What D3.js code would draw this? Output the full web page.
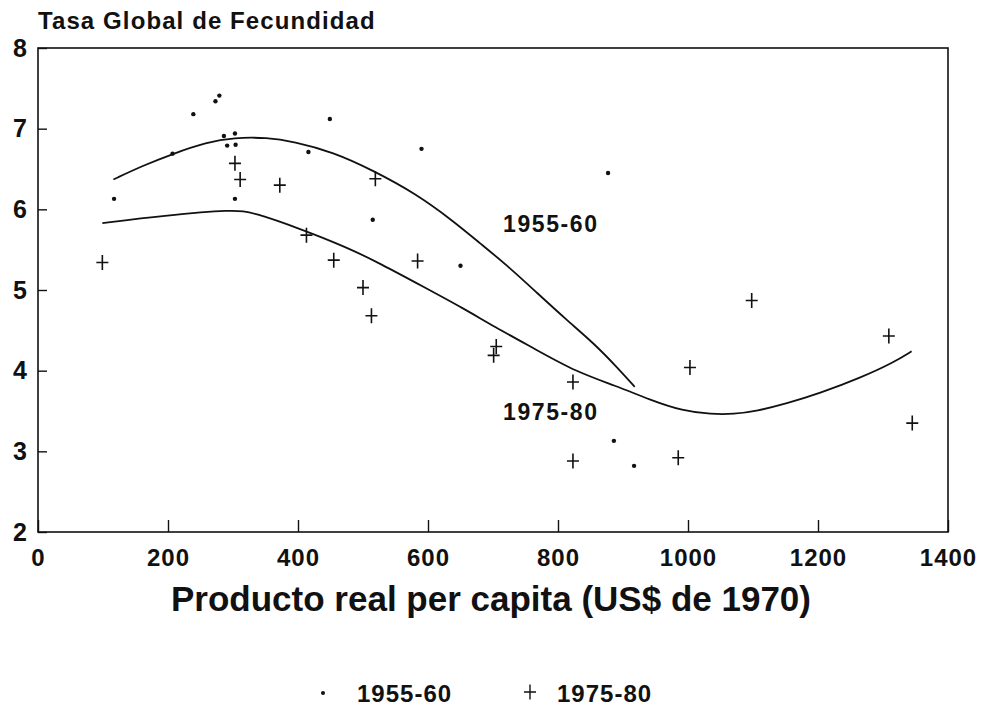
<!DOCTYPE html>
<html>
<head>
<meta charset="utf-8">
<script src="https://cdn.jsdelivr.net/npm/d3@7/dist/d3.min.js"></script>
<style>
    body { margin: 0; background: #ffffff; }
    svg { display: block; font-family: "Liberation Sans", Arial, sans-serif; }
</style>
</head>
<body>
<script>
// Puntos 1955-60 (producto per capita, tasa global de fecundidad)
const dots5560X = [239, 273, 279, 449, 286, 303, 291, 304, 207, 416, 117, 303, 515, 590, 877, 650, 886, 917];
const dots5560Y = [7.18, 7.34, 7.41, 7.12, 6.91, 6.94, 6.79, 6.80, 6.69, 6.71, 6.13, 6.13, 5.87, 6.75, 6.45, 5.30, 3.13, 2.82];

// Puntos 1975-80
const cross7580X = [99, 303, 311, 372, 519, 413, 455, 500, 513, 584, 701, 705, 823, 823, 985, 1003, 1098, 1309, 1345];
const cross7580Y = [5.34, 6.57, 6.37, 6.30, 6.38, 5.68, 5.37, 5.03, 4.68, 5.36, 4.19, 4.30, 3.86, 2.88, 2.92, 4.04, 4.87, 4.43, 3.35];

// Curvas ajustadas
const curve5560X = [116, 161, 208, 259, 302, 352, 393, 454, 516, 582, 638, 680, 721, 767, 813, 855, 890, 918];
const curve5560Y = [6.37, 6.54, 6.69, 6.83, 6.89, 6.89, 6.84, 6.71, 6.48, 6.19, 5.86, 5.58, 5.31, 4.97, 4.63, 4.34, 4.05, 3.80];
const curve7580X = [99, 193, 301, 332, 403, 475, 526, 593, 655, 701, 762, 829, 890, 941, 992, 1036, 1070, 1106, 1151, 1203, 1265, 1316, 1344];
const curve7580Y = [5.83, 5.92, 6.00, 5.96, 5.76, 5.53, 5.33, 5.04, 4.77, 4.55, 4.28, 3.98, 3.81, 3.64, 3.50, 3.46, 3.46, 3.50, 3.59, 3.72, 3.91, 4.10, 4.24];

// Ejes
const xTicks = [0, 200, 400, 600, 800, 1000, 1200, 1400];
const yTicks = [2, 3, 4, 5, 6, 7, 8];
const seriesNames = ['1955-60', '1975-80'];
const yTitle = 'Tasa Global de Fecundidad';
const xTitle = 'Producto real per capita (US$ de 1970)';

const svgWidth = 982, svgHeight = 709;
const plot = {left: 38, right: 948, top: 48, bottom: 532};

let svg = d3.select('body')
    .append('svg')
    .attr('width', svgWidth)
    .attr('height', svgHeight);

const x = d3.scaleLinear().domain([0, 1400]).range([plot.left, plot.right]);
const y = d3.scaleLinear().domain([2, 8]).range([plot.bottom, plot.top]);

const ink = '#111111';

// marco
svg.append('rect')
    .attr('x', plot.left)
    .attr('y', plot.top)
    .attr('width', plot.right - plot.left)
    .attr('height', plot.bottom - plot.top)
    .attr('fill', 'none')
    .attr('stroke', ink)
    .attr('stroke-width', 1.6);

// eje x
let xAxis = svg.append('g')
    .attr('transform', `translate(0,${plot.bottom})`)
    .call(d3.axisBottom(x).tickValues(xTicks).tickFormat(d3.format('d')).tickSizeInner(-12).tickSizeOuter(0).tickPadding(17));
xAxis.select('.domain').remove();
xAxis.selectAll('line').attr('stroke', ink).attr('stroke-width', 1.4);
xAxis.selectAll('text')
    .attr('fill', ink)
    .style('font-size', '24px')
    .style('font-weight', 'bold')
    .style('letter-spacing', '1px');

// eje y
let yAxis = svg.append('g')
    .attr('transform', `translate(${plot.left},0)`)
    .call(d3.axisLeft(y).tickValues(yTicks).tickFormat(d3.format('d')).tickSizeInner(-9).tickSizeOuter(0).tickPadding(11));
yAxis.select('.domain').remove();
yAxis.selectAll('line').attr('stroke', ink).attr('stroke-width', 1.4);
yAxis.selectAll('text')
    .attr('fill', ink)
    .style('font-size', '25px')
    .style('font-weight', 'bold');

// titulos
svg.append('text')
    .attr('x', 38)
    .attr('y', 29)
    .attr('fill', ink)
    .style('font-size', '24px')
    .style('font-weight', 'bold')
    .style('letter-spacing', '1.1px')
    .text(yTitle);

svg.append('text')
    .attr('x', (172 + 810) / 2)
    .attr('y', 611)
    .attr('text-anchor', 'middle')
    .attr('fill', ink)
    .style('font-size', '35px')
    .style('font-weight', 'bold')
    .text(xTitle);

// curvas
const line = d3.line()
    .x(d => x(d[0]))
    .y(d => y(d[1]))
    .curve(d3.curveBasis);

svg.append('path')
    .datum(d3.zip(curve5560X, curve5560Y))
    .attr('d', line)
    .attr('fill', 'none')
    .attr('stroke', ink)
    .attr('stroke-width', 1.8);

svg.append('path')
    .datum(d3.zip(curve7580X, curve7580Y))
    .attr('d', line)
    .attr('fill', 'none')
    .attr('stroke', ink)
    .attr('stroke-width', 1.8);

// puntos 1955-60
svg.append('g')
    .selectAll('circle')
    .data(d3.zip(dots5560X, dots5560Y))
    .join('circle')
    .attr('cx', d => x(d[0]))
    .attr('cy', d => y(d[1]))
    .attr('r', 2.2)
    .attr('fill', ink);

// cruces 1975-80
const crossPath = (cx, cy) => `M${cx - 6},${cy}H${cx + 6}M${cx},${cy - 7.5}V${cy + 7.5}`;
svg.append('g')
    .selectAll('path')
    .data(d3.zip(cross7580X, cross7580Y))
    .join('path')
    .attr('d', d => crossPath(x(d[0]), y(d[1])))
    .attr('stroke', ink)
    .attr('stroke-width', 1.6)
    .attr('fill', 'none');

// etiquetas de curvas
const curveLabels = [
    {text: seriesNames[0], px: 503, py: 232},
    {text: seriesNames[1], px: 503, py: 420}
];
svg.append('g')
    .selectAll('text')
    .data(curveLabels)
    .join('text')
    .attr('x', d => d.px)
    .attr('y', d => d.py)
    .attr('fill', ink)
    .style('font-size', '23px')
    .style('font-weight', 'bold')
    .style('letter-spacing', '1.6px')
    .text(d => d.text);

// leyenda
let legend = svg.append('g').attr('transform', 'translate(0,693)');
legend.append('circle')
    .attr('cx', 323)
    .attr('cy', 0)
    .attr('r', 2)
    .attr('fill', ink);
legend.append('path')
    .attr('d', crossPath(530, -1))
    .attr('stroke', ink)
    .attr('stroke-width', 1.4);
legend.selectAll('text.leg')
    .data(seriesNames)
    .join('text')
    .attr('class', 'leg')
    .attr('x', (d, i) => i === 0 ? 357 : 557)
    .attr('y', 9)
    .attr('fill', ink)
    .style('font-size', '24px')
    .style('font-weight', 'bold')
    .style('letter-spacing', '1px')
    .text(d => d);
</script>
</body>
</html>
